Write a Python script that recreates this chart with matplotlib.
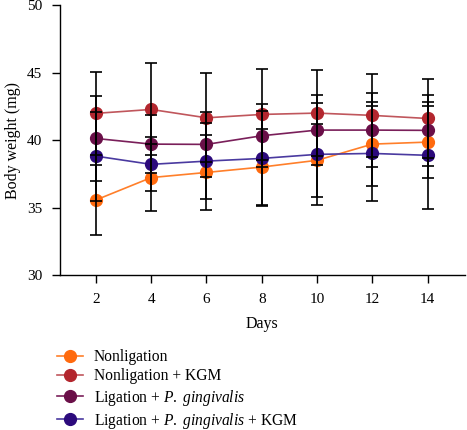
"""Body weight over time for four groups, with SD error bars."""
import matplotlib
matplotlib.use("Agg")
import matplotlib.pyplot as plt

days = [2, 4, 6, 8, 10, 12, 14]

labels = [
    "Nonligation",
    "Nonligation + KGM",
    "Ligation + $\\mathit{P.}$ $\\mathit{gingivalis}$",
    "Ligation + $\\mathit{P.}$ $\\mathit{gingivalis}$ + KGM",
]

nonligation = [35.56, 37.22, 37.60, 38.00, 38.50, 39.70, 39.85]
nonligation_sd = [2.60, 2.46, 2.79, 2.80, 2.70, 3.10, 2.67]

nonligation_kgm = [41.98, 42.27, 41.65, 41.90, 42.00, 41.83, 41.60]
nonligation_kgm_sd = [3.08, 3.41, 3.29, 3.40, 3.20, 3.06, 2.92]

ligation_pg = [40.12, 39.70, 39.68, 40.32, 40.74, 40.74, 40.72]
ligation_pg_sd = [3.16, 2.15, 2.42, 2.35, 2.60, 2.76, 2.61]

ligation_pg_kgm = [38.81, 38.20, 38.44, 38.64, 38.94, 39.01, 38.87]
ligation_pg_kgm_sd = [3.30, 2.00, 2.80, 3.50, 3.78, 3.50, 3.97]

marker_colors = ["#ff6a0e", "#b3262e", "#6a0f48", "#2c0a7c"]
line_colors = ["#ff7f2a", "#c0565c", "#7a1f5a", "#4a3aa0"]

plt.rcParams["font.family"] = ["Liberation Serif", "DejaVu Serif"]
plt.rcParams["mathtext.fontset"] = "custom"
plt.rcParams["mathtext.rm"] = "Liberation Serif"
plt.rcParams["mathtext.it"] = "Liberation Serif:italic"

fig = plt.figure(figsize=(4.67, 4.30), dpi=100)
ax = fig.add_axes([0.1285, 0.3605, 0.867, 0.6275])

series = [
    (nonligation, nonligation_sd),
    (nonligation_kgm, nonligation_kgm_sd),
    (ligation_pg, ligation_pg_sd),
    (ligation_pg_kgm, ligation_pg_kgm_sd),
]

handles = []
for (vals, sd), mc, lc in zip(series, marker_colors, line_colors):
    h, = ax.plot(days, vals, color=lc, lw=1.2, marker="o", markersize=8.5,
                 markerfacecolor=mc, markeredgecolor=mc, zorder=3)
    ax.errorbar(days, vals, yerr=sd, fmt="none", ecolor="black",
                elinewidth=1.2, capsize=4, capthick=1.2, zorder=4)
    handles.append(h)

ax.set_xlim(0.7, 15.35)
ax.set_ylim(30, 50)
ax.set_xticks(days)
ax.set_yticks([30, 35, 40, 45, 50])
ax.spines["top"].set_visible(False)
ax.spines["right"].set_visible(False)
for s in ("left", "bottom"):
    ax.spines[s].set_linewidth(1.0)
ax.tick_params(direction="out", length=6, width=1.0, pad=7, labelsize=11,
               colors="black")
ax.set_xlabel("Days", fontsize=11.5, labelpad=7)
ax.set_ylabel("Body weight (mg)", fontsize=11.5, labelpad=4)

fig.legend(handles, labels, loc="upper left", bbox_to_anchor=(0.108, 0.202),
           frameon=False, fontsize=11.2, handlelength=1.7, handletextpad=0.7,
           labelspacing=0.2, borderaxespad=0)

fig.savefig("out.png", dpi=100)
